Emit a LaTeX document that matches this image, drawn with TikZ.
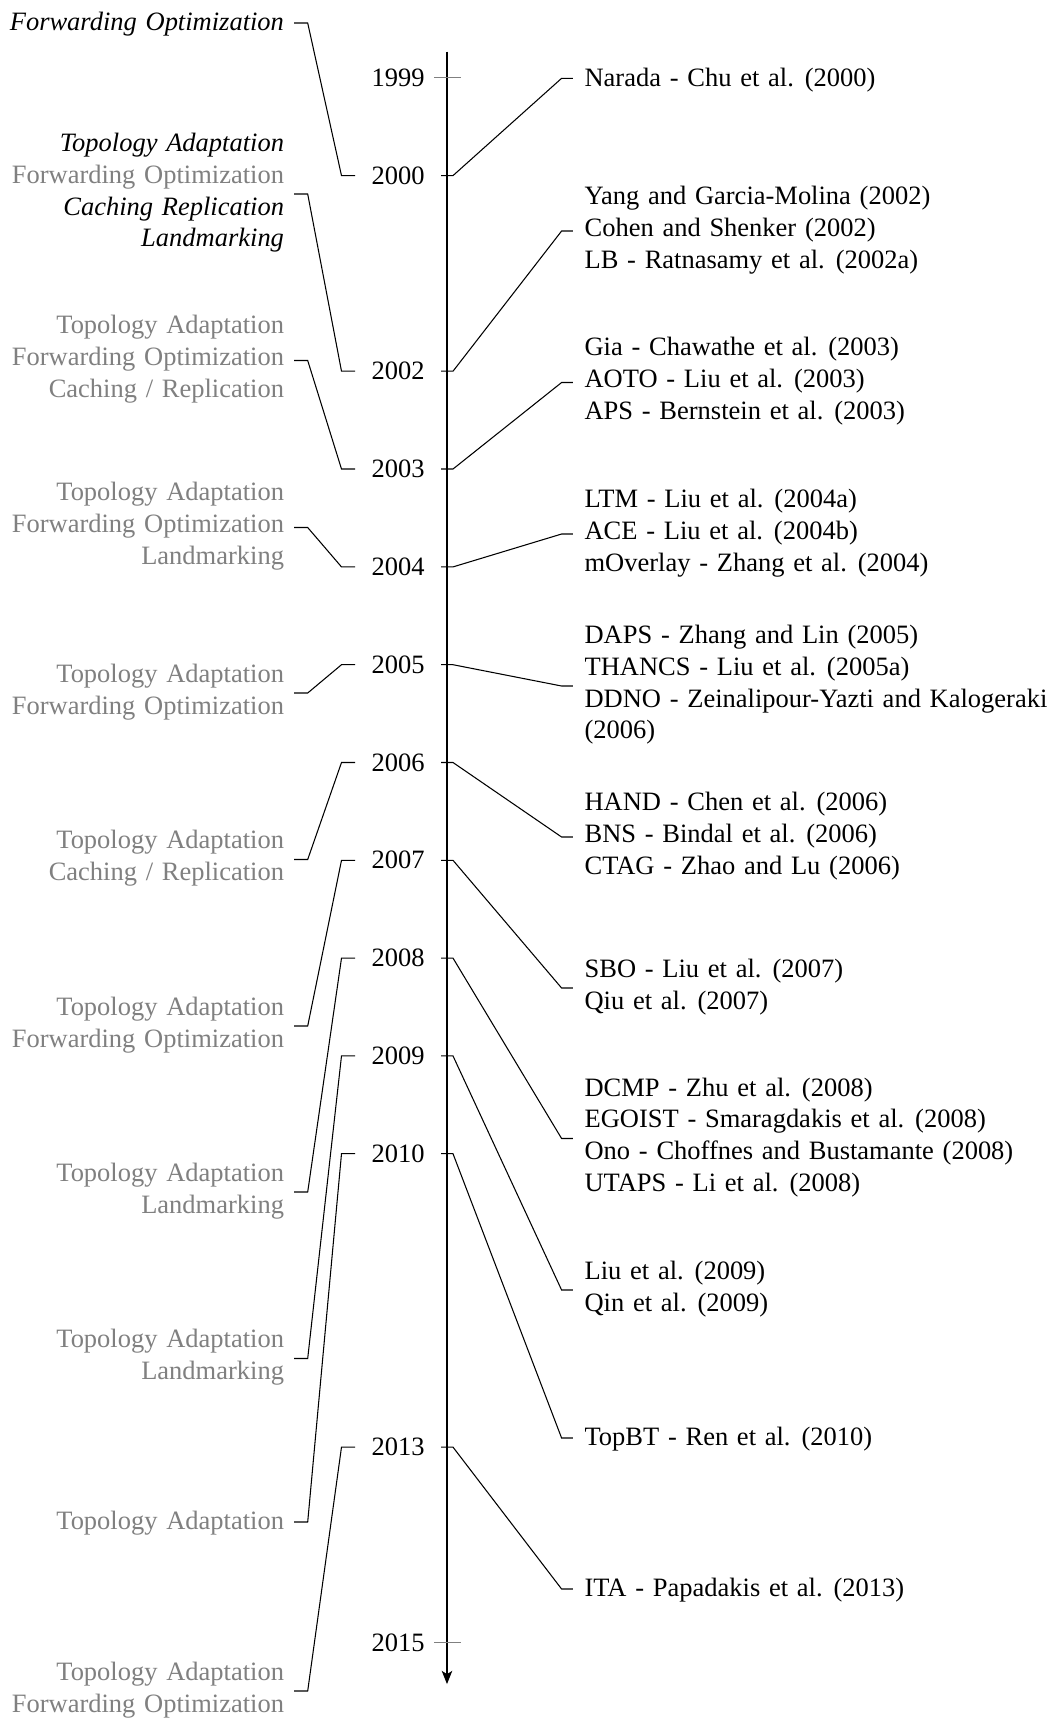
\documentclass[tikz,border=0pt]{standalone}
\usepackage{fontspec}
\setmainfont{Liberation Serif}
\usetikzlibrary{calc,arrows.meta}
\newcommand\tlstrut{\rule[-3pt]{0pt}{12pt}}
\newcommand\tlwide{\spaceskip=3.3pt plus 1pt minus 0.5pt\relax}
\begin{document}
\begin{tikzpicture}[x=0.3775pt,y=-0.3775pt,
  every node/.style={inner sep=0pt, outer sep=0pt, font=\fontsize{10}{12}\selectfont},
  yearlbl/.style={anchor=east},
  leftlbl/.style={anchor=east, align=right, text=black!50,
    execute at begin node={\tlwide\tlstrut}, execute at end node=\tlstrut},
  rightlbl/.style={anchor=west, align=left,
    execute at begin node={\tlwide\tlstrut}, execute at end node=\tlstrut},
  link/.style={line width=0.4pt, black},
  endtick/.style={line width=0.4pt, black!50},
  axisline/.style={line width=0.4pt, black, -{Stealth[length=5pt,width=4pt,inset=1.3pt]}}]
\fill[white] (0,0) rectangle (1058,1718);
\useasboundingbox (0,0) rectangle (1058,1718);

% axis
\coordinate (AxTop) at (447,51.7);
\coordinate (AxEnd) at (447,1684);
\draw[axisline] (AxTop) -- (AxEnd);

% year points on the axis
\foreach \yr/\yy in {1999/77.8,2000/175.6,2002/371.2,2003/469.0,2004/566.9,2005/664.7,2006/762.5,2007/860.3,2008/958.1,2009/1055.9,2010/1153.7,2013/1447.1,2015/1642.8}{
  \coordinate (T\yr) at (447,\yy);
  \node[yearlbl] (Y\yr) at ($(T\yr)+(-22.4,0)$) {\yr};
}
\draw[endtick] ($(T1999)+(-13,0)$) -- ($(T1999)+(13.7,0)$);
\draw[endtick] ($(T2015)+(-13,0)$) -- ($(T2015)+(13.7,0)$);

% right labels
\node[rightlbl] (R2000) at (584.6,78.3) {Narada - Chu et al. (2000)};
\node[rightlbl] (R2002) at (584.6,231) {Yang and Garcia-Molina (2002)\\Cohen and Shenker (2002)\\LB - Ratnasamy et al. (2002a)};
\node[rightlbl] (R2003) at (584.6,382.5) {Gia - Chawathe et al. (2003)\\AOTO - Liu et al. (2003)\\APS - Bernstein et al. (2003)};
\node[rightlbl] (R2004) at (584.6,534) {LTM - Liu et al. (2004a)\\ACE - Liu et al. (2004b)\\mOverlay - Zhang et al. (2004)};
\node[rightlbl] (R2005) at (584.6,686) {DAPS - Zhang and Lin (2005)\\THANCS - Liu et al. (2005a)\\DDNO - Zeinalipour-Yazti and Kalogeraki\\(2006)};
\node[rightlbl] (R2006) at (584.6,837) {HAND - Chen et al. (2006)\\BNS - Bindal et al. (2006)\\CTAG - Zhao and Lu (2006)};
\node[rightlbl] (R2007) at (584.6,988) {SBO - Liu et al. (2007)\\Qiu et al. (2007)};
\node[rightlbl] (R2008) at (584.6,1138.5) {DCMP - Zhu et al. (2008)\\EGOIST - Smaragdakis et al. (2008)\\Ono - Choffnes and Bustamante (2008)\\UTAPS - Li et al. (2008)};
\node[rightlbl] (R2009) at (584.6,1290) {Liu et al. (2009)\\Qin et al. (2009)};
\node[rightlbl] (R2010) at (584.6,1438) {TopBT - Ren et al. (2010)};
\node[rightlbl] (R2013) at (584.6,1589) {ITA - Papadakis et al. (2013)};

% left labels
\node[leftlbl] (L2000) at (284,23) {{\color{black}\itshape Forwarding Optimization}};
\node[leftlbl] (L2002) at (284,194) {{\color{black}\itshape Topology Adaptation}\\Forwarding Optimization\\{\color{black}\itshape Caching Replication}\\{\color{black}\itshape Landmarking}};
\node[leftlbl] (L2003) at (284,360.5) {Topology Adaptation\\Forwarding Optimization\\Caching / Replication};
\node[leftlbl] (L2004) at (284,527.5) {Topology Adaptation\\Forwarding Optimization\\Landmarking};
\node[leftlbl] (L2005) at (284,693) {Topology Adaptation\\Forwarding Optimization};
\node[leftlbl] (L2006) at (284,859.5) {Topology Adaptation\\Caching / Replication};
\node[leftlbl] (L2007) at (284,1026) {Topology Adaptation\\Forwarding Optimization};
\node[leftlbl] (L2008) at (284,1192) {Topology Adaptation\\Landmarking};
\node[leftlbl] (L2009) at (284,1358.5) {Topology Adaptation\\Landmarking};
\node[leftlbl] (L2010) at (284,1522) {Topology Adaptation};
\node[leftlbl] (L2013) at (284,1691) {Topology Adaptation\\Forwarding Optimization};

% connectors
\foreach \yr in {2000,2002,2003,2004,2005,2006,2007,2008,2009,2010,2013}{
  \draw[link] ($(T\yr)+(-6,0)$) -- ($(T\yr)+(6,0)$) -- ($(R\yr.west)+(-23,0)$) -- ($(R\yr.west)+(-11.7,0)$);
  \draw[link] ($(L\yr.east)+(10,0)$) -- ($(L\yr.east)+(23.7,0)$) -- ($(T\yr)+(-105.5,0)$) -- ($(T\yr)+(-92,0)$);
}
\end{tikzpicture}
\end{document}
